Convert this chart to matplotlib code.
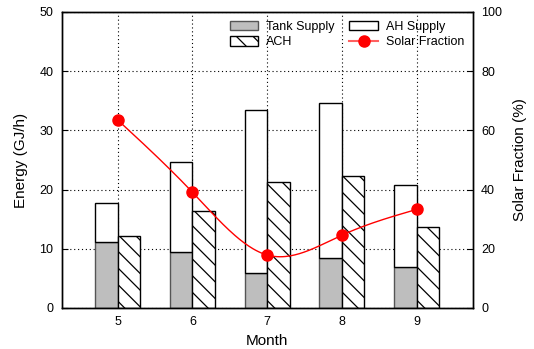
import numpy as np
import matplotlib
matplotlib.use("Agg")
import matplotlib.pyplot as plt

months = [5, 6, 7, 8, 9]
tank_supply = [11.1, 9.5, 5.9, 8.4, 6.9]
ah_supply = [17.7, 24.7, 33.4, 34.6, 20.8]
ach = [12.2, 16.4, 21.2, 22.3, 13.6]
solar_fraction = [63.5, 39.1, 17.9, 24.6, 33.3]


def natural_spline(x, y, n=200):
    # gnuplot-like "smooth csplines"
    x = np.asarray(x, dtype=float)
    y = np.asarray(y, dtype=float)
    k = len(x)
    h = np.diff(x)
    A = np.zeros((k, k))
    b = np.zeros(k)
    A[0, 0] = A[-1, -1] = 1.0
    for i in range(1, k - 1):
        A[i, i - 1] = h[i - 1]
        A[i, i] = 2 * (h[i - 1] + h[i])
        A[i, i + 1] = h[i]
        b[i] = 6 * ((y[i + 1] - y[i]) / h[i] - (y[i] - y[i - 1]) / h[i - 1])
    M = np.linalg.solve(A, b)
    xs = np.linspace(x[0], x[-1], n)
    idx = np.clip(np.searchsorted(x, xs) - 1, 0, k - 2)
    x0, x1 = x[idx], x[idx + 1]
    hh = x1 - x0
    t0, t1 = x1 - xs, xs - x0
    ys = (M[idx] * t0**3 + M[idx + 1] * t1**3) / (6 * hh) \
        + (y[idx] / hh - M[idx] * hh / 6) * t0 \
        + (y[idx + 1] / hh - M[idx + 1] * hh / 6) * t1
    return xs, ys


plt.rcParams["font.family"] = ["Liberation Sans", "DejaVu Sans"]
plt.rcParams["hatch.linewidth"] = 0.9

fig = plt.figure(figsize=(5.34, 3.49), dpi=100)
ax = fig.add_axes([0.1155, 0.1175, 0.7697, 0.8482])
ax2 = ax.twinx()

x = np.asarray(months, dtype=float)
w = 0.3
tank = np.asarray(tank_supply)
ah_top = np.asarray(ah_supply) - tank

b_tank = ax.bar(x - w / 2, tank, w, color="#bebebe", edgecolor="#555555", linewidth=1, zorder=2)
b_ah = ax.bar(x - w / 2, ah_top, w, bottom=tank, color="white", edgecolor="black", linewidth=1, zorder=2)
b_ach = ax.bar(x + w / 2, ach, w, color="white", edgecolor="black", hatch="\\\\", linewidth=1, zorder=2)

ax.set_xlim(4.25, 9.75)
ax.set_ylim(0, 50)
ax.set_xticks(months)
ax.set_yticks(range(0, 51, 10))
ax.grid(True, color="black", linestyle=(0, (1, 2.5)), linewidth=0.8, zorder=0)
ax.set_axisbelow(True)
ax.tick_params(direction="in", labelsize=9, length=4, pad=6)
ax.set_xlabel("Month", fontsize=11, labelpad=4)
ax.set_ylabel("Energy (GJ/h)", fontsize=11, labelpad=8)

sx, sy = natural_spline(x, solar_fraction)
ax2.plot(sx, sy, color="red", linewidth=1, zorder=3)
ax2.plot(x, solar_fraction, "o", color="red", markersize=8, zorder=4)
ax2.set_ylim(0, 100)
ax2.set_yticks(range(0, 101, 20))
ax2.tick_params(direction="in", labelsize=9, length=4, pad=6)
ax2.set_ylabel("Solar Fraction (%)", fontsize=11, labelpad=8)

for a in (ax, ax2):
    for s in a.spines.values():
        s.set_linewidth(1)

sf_handle = plt.Line2D([], [], color="#ff6060", linewidth=1.5, marker="o", markersize=8,
                       markerfacecolor="red", markeredgecolor="red")
ax2.legend([b_tank, b_ach, b_ah, sf_handle],
           ["Tank Supply", "ACH", "AH Supply", "Solar Fraction"],
           ncol=2, loc="upper right", bbox_to_anchor=(1.0, 1.0), frameon=False,
           fontsize=9, handlelength=2.3, handleheight=0.8, labelspacing=0.25,
           columnspacing=1.2, handletextpad=0.6, borderaxespad=0.3)

fig.savefig("out.png", dpi=100)
